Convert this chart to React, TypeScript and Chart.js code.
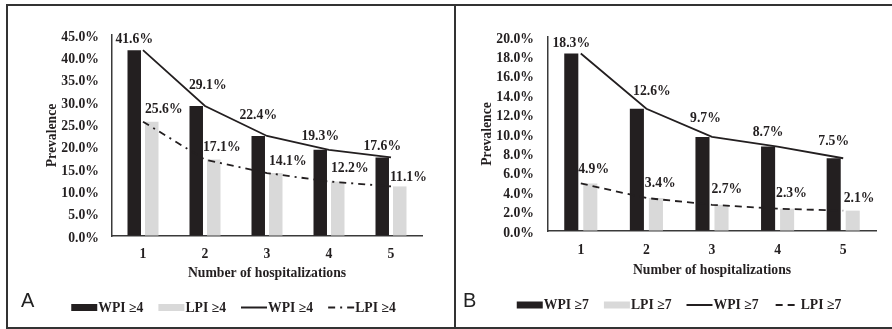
import { useEffect, useRef } from 'react';
import { Chart, registerables } from 'chart.js';

Chart.register(...registerables);

// ---- data ----
const categories = ['1', '2', '3', '4', '5'];
const wpi4 = [41.6, 29.1, 22.4, 19.3, 17.6];
const lpi4 = [25.6, 17.1, 14.1, 12.2, 11.1];
const wpi7 = [18.3, 12.6, 9.7, 8.7, 7.5];
const lpi7 = [4.9, 3.4, 2.7, 2.3, 2.1];
const legendLabelsA = ['WPI ≥4', 'LPI ≥4', 'WPI ≥4', 'LPI ≥4'];
const legendLabelsB = ['WPI ≥7', 'LPI ≥7', 'WPI ≥7', 'LPI ≥7'];
const yTitle = 'Prevalence';
const xTitle = 'Number of hospitalizations';
const panelLetters = ['A', 'B'];

// ---- styles ----
const DARK = '#231f20';
const GRAY = '#d9d9d9';
const TEXT = '#231f20';
const AXIS = '#3a3a3a';
const SERIF = '"Liberation Serif", "Times New Roman", serif';
const FS = 13.7;
const FONT = { family: SERIF, size: FS, weight: 'bold' as const };

const legendPlugin = {
  id: 'customLegend',
  afterDraw(chart: any, _args: any, opts: any) {
    const ctx = chart.ctx;
    ctx.save();
    ctx.font = `bold ${FS}px ${SERIF}`;
    const sw = 26;
    const gap = 15;
    const items = chart.data.datasets.map((ds: any) => ({ ds, w: sw + 1 + ctx.measureText(ds.label).width }));
    const total = items.reduce((s: number, it: any) => s + it.w, 0) + gap * (items.length - 1);
    let x = opts.centerX - total / 2;
    const y = opts.y;
    items.forEach(({ ds, w }: any) => {
      if (ds.type === 'bar') {
        ctx.fillStyle = ds.backgroundColor;
        ctx.fillRect(x, y - 3.5, sw, 7);
      } else {
        ctx.strokeStyle = ds.borderColor;
        ctx.lineWidth = 2;
        ctx.setLineDash(ds.borderDash || []);
        ctx.lineDashOffset = ds.borderDash ? opts.dashOffset : 0;
        ctx.beginPath();
        ctx.moveTo(x, y);
        ctx.lineTo(x + sw, y);
        ctx.stroke();
        ctx.setLineDash([]);
        ctx.lineDashOffset = 0;
      }
      ctx.fillStyle = TEXT;
      ctx.textAlign = 'left';
      ctx.textBaseline = 'middle';
      ctx.fillText(ds.label, x + sw + 1, y + 0.5);
      x += w + gap;
    });
    ctx.font = `20px "Liberation Sans", Arial, sans-serif`;
    ctx.textBaseline = 'alphabetic';
    ctx.fillStyle = '#222';
    ctx.fillText(opts.letter, opts.letterX, opts.letterY);
    ctx.restore();
  },
};

const valueLabelPlugin = {
  id: 'valueLabels',
  afterDatasetsDraw(chart: any, _args: any, opts: any) {
    const ctx = chart.ctx;
    ctx.save();
    ctx.font = `bold ${FS}px ${SERIF}`;
    ctx.fillStyle = TEXT;
    ctx.textBaseline = 'middle';
    const metaW = chart.getDatasetMeta(0);
    const metaL = chart.getDatasetMeta(1);
    const dW = chart.data.datasets[0].data;
    const dL = chart.data.datasets[1].data;
    ctx.textAlign = 'center';
    metaW.data.forEach((el: any, i: number) => {
      const [dx, dy] = opts.wpiNudge[i];
      ctx.fillText(Number(dW[i]).toFixed(1) + '%', el.x + dx, el.y - dy);
    });
    ctx.textAlign = 'left';
    metaL.data.forEach((el: any, i: number) => {
      const [dx, dy] = opts.lpiNudge[i];
      ctx.fillText(Number(dL[i]).toFixed(1) + '%', el.x - el.width / 2 + dx, el.y - dy);
    });
    ctx.restore();
  },
};

function buildConfig(p: any): any {
  const gridOpts = { display: true, drawOnChartArea: false, drawTicks: false };
  return {
    type: 'bar',
    data: {
      labels: categories,
      datasets: [
        { type: 'bar', label: p.labels[0], data: p.wpi, backgroundColor: DARK, order: 2, categoryPercentage: p.cat, barPercentage: p.bar },
        { type: 'bar', label: p.labels[1], data: p.lpi, backgroundColor: GRAY, order: 2, categoryPercentage: p.cat, barPercentage: p.bar },
        { type: 'line', label: p.labels[2], data: p.wpi, borderColor: DARK, borderWidth: 1.8, pointRadius: 0, tension: 0, fill: false, order: 1 },
        { type: 'line', label: p.labels[3], data: p.lpi, borderColor: DARK, borderWidth: 1.8, borderDash: p.dash, pointRadius: 0, tension: 0, fill: false, order: 1 },
      ],
    },
    options: {
      responsive: false,
      animation: false,
      events: [],
      layout: { padding: { left: 0, right: p.padR, top: p.padT, bottom: 0 } },
      plugins: {
        legend: { display: false },
        tooltip: { enabled: false },
        customLegend: { centerX: p.legendX, y: p.legendY, letter: p.letter, letterX: p.letterX, letterY: 307, dashOffset: p.legendDashOffset },
        valueLabels: { wpiNudge: p.wpiNudge, lpiNudge: p.lpiNudge },
      },
      scales: {
        x: {
          offset: true,
          grid: gridOpts,
          border: { display: true, color: AXIS, width: 1.5 },
          ticks: { padding: p.xTickPad, color: TEXT, font: FONT, autoSkip: false, maxRotation: 0 },
          title: { display: true, text: xTitle, color: TEXT, font: FONT, padding: { top: 0, bottom: p.xTitlePadB } },
          afterFit: (s: any) => { s.height = p.xHeight; },
        },
        y: {
          min: 0,
          max: p.max,
          grid: gridOpts,
          border: { display: true, color: AXIS, width: 1.5 },
          ticks: {
            stepSize: p.step,
            autoSkip: false,
            padding: p.yTickPad,
            labelOffset: 2,
            color: TEXT,
            font: FONT,
            callback: (v: any) => Number(v).toFixed(1) + '%',
          },
          title: { display: true, text: yTitle, color: TEXT, font: FONT, padding: { top: p.yTitlePadT, bottom: 0 } },
          afterFit: (s: any) => { s.width = p.yWidth; },
        },
      },
    },
    plugins: [legendPlugin, valueLabelPlugin],
  };
}

const panelA = {
  labels: legendLabelsA, wpi: wpi4, lpi: lpi4, max: 45, step: 5,
  cat: 0.565, bar: 0.77, dash: [7, 5, 2, 5], legendDashOffset: 0,
  padR: 33, padT: 35, yWidth: 112, yTickPad: 13, yTitlePadT: 43.8,
  xHeight: 93, xTickPad: 9.8, xTitlePadB: 47.8,
  legendX: 233.5, legendY: 307.5, letter: panelLetters[0], letterX: 21,
  wpiNudge: [[0, 11], [11.5, 21], [0, 20], [0, 13], [0, 11]],
  lpiNudge: [[0, 12], [-4, 12], [0, 12], [0, 13], [-3, 9]],
};

const panelB = {
  labels: legendLabelsB, wpi: wpi7, lpi: lpi7, max: 20, step: 2,
  cat: 0.58, bar: 0.74, dash: [7, 5], legendDashOffset: 10,
  padR: 16, padT: 37, yWidth: 93, yTickPad: 14, yTitlePadT: 23.8,
  xHeight: 98, xTickPad: 10.8, xTitlePadB: 50.8,
  legendX: 224, legendY: 305, letter: panelLetters[1], letterX: 8,
  wpiNudge: [[0, 10], [15, 17], [3, 18], [0, 14], [0, 17]],
  lpiNudge: [[-5, 14], [-4, 15], [-3, 15], [-4, 15], [-2, 12]],
};

function Panel({ cfg, left, width }: { cfg: any; left: number; width: number }) {
  const ref = useRef<HTMLCanvasElement>(null);
  useEffect(() => {
    if (!ref.current) return;
    const chart = new Chart(ref.current, buildConfig(cfg));
    return () => chart.destroy();
  }, [cfg]);
  return (
    <canvas
      ref={ref}
      width={width}
      height={329}
      style={{ position: 'absolute', left, top: 0, width, height: 329 }}
    />
  );
}

const line = (l: number, t: number, w: number, h: number) => (
  <div style={{ position: 'absolute', left: l, top: t, width: w, height: h, background: '#333' }} />
);

export default function App() {
  return (
    <div style={{ position: 'absolute', left: 0, top: 0, width: 892, height: 329, background: '#fff' }}>
      <Panel cfg={panelA} left={0} width={455} />
      <Panel cfg={panelB} left={455} width={437} />
      {line(6, 4, 886, 2)}
      {line(6, 4, 2, 325)}
      {line(454, 4, 2, 325)}
      {line(6, 327, 886, 2)}
    </div>
  );
}
